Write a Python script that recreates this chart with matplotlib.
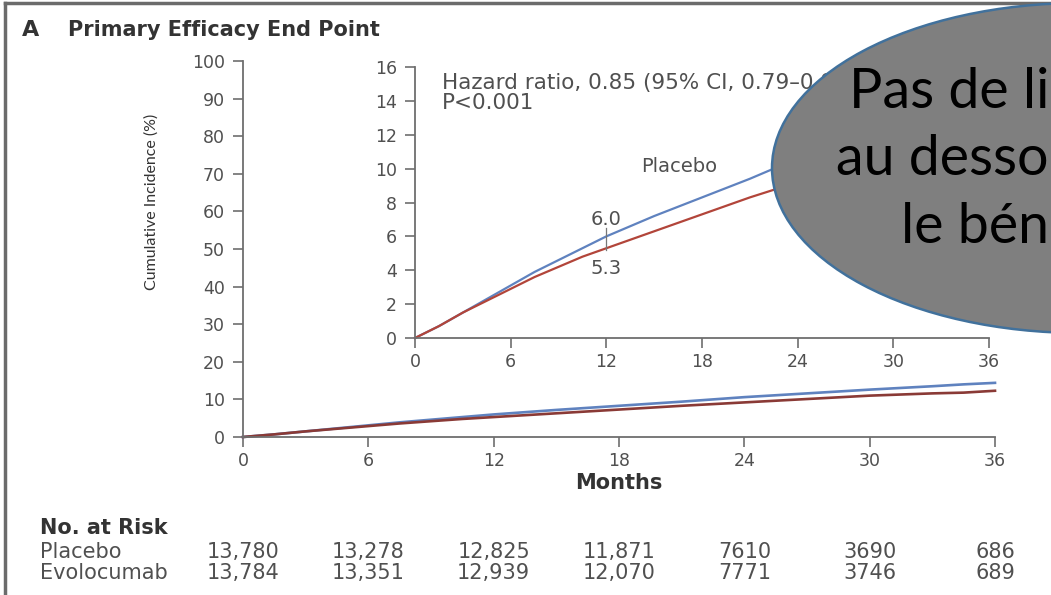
import numpy as np
import matplotlib
matplotlib.use("Agg")
import matplotlib.pyplot as plt
from matplotlib.patches import Ellipse
from matplotlib.lines import Line2D
from matplotlib.transforms import blended_transform_factory

# values (cumulative incidence, %)
months = [0, 1.5, 3, 4.5, 6, 7.5, 9, 10.5, 12, 15, 18, 21, 24, 27, 30, 33, 34.5, 36]
placebo = [0, 0.7, 1.5, 2.3, 3.1, 3.9, 4.6, 5.3, 6.0, 7.2, 8.3, 9.4, 10.6, 11.6, 12.6, 13.5, 14.0, 14.4]
evolocumab = [0, 0.7, 1.5, 2.2, 2.9, 3.6, 4.2, 4.8, 5.3, 6.3, 7.3, 8.3, 9.2, 10.1, 11.0, 11.6, 11.8, 12.3]

x_ticks = [0, 6, 12, 18, 24, 30, 36]
main_y_ticks = list(range(0, 101, 10))
inset_y_ticks = list(range(0, 17, 2))

risk_groups = ["Placebo", "Evolocumab"]
risk_placebo = ["13,780", "13,278", "12,825", "11,871", "7610", "3690", "686"]
risk_evolocumab = ["13,784", "13,351", "12,939", "12,070", "7771", "3746", "689"]

bubble_lines = ["Pas de li", "au desso", "le bén"]

c_placebo = "#5f82bf"
c_evo = "#b2453a"
c_axis = "#6e6e6e"
c_text = "#505050"
c_dark = "#333333"

W, H = 1051, 595
fig = plt.figure(figsize=(W / 100, H / 100), dpi=100)

def fx(px):
	return px / W

def fy(py):
	return 1 - py / H

def style(ax, yticks):
	for s in ["top", "right"]:
		ax.spines[s].set_visible(False)
	for s in ["left", "bottom"]:
		ax.spines[s].set_color(c_axis)
		ax.spines[s].set_linewidth(1.3)
	ax.set_xticks(x_ticks)
	ax.set_yticks(yticks)
	ax.tick_params(colors=c_axis, labelcolor=c_text, labelsize=12.5, length=7, width=1.2)
	ax.tick_params(axis="y", pad=6)
	ax.tick_params(axis="x", pad=4)
	ax.set_xlim(0, 36)
	ax.set_ylim(yticks[0], yticks[-1])
	ax.patch.set_alpha(0)

# main axes
ax = fig.add_axes([fx(243), fy(437), fx(995 - 243), (437 - 61) / H])
style(ax, main_y_ticks)
ax.plot(months, placebo, color=c_placebo, lw=1.9, clip_on=False)
ax.plot(months, evolocumab, color="#8a3a36", lw=1.9, clip_on=False)
ax.set_xlabel("Months", fontsize=15, fontweight="bold", color=c_dark, labelpad=2)
fig.text(fx(152), fy(202), "Cumulative Incidence (%)", rotation=90, fontsize=11.5, family="Lato",
		 color=c_dark, ha="center", va="center")

# inset axes
ins = fig.add_axes([fx(415), fy(338), fx(989 - 415), (338 - 67) / H])
style(ins, inset_y_ticks)
ins.plot(months, placebo, color=c_placebo, lw=1.6, clip_on=False)
ins.plot(months, evolocumab, color=c_evo, lw=1.6, clip_on=False)
ins.plot([12, 12], [5.2, 6.5], color="#777777", lw=0.9)
ins.text(12, 7.0, "6.0", ha="center", va="center", fontsize=14, color=c_text)
ins.text(12, 4.1, "5.3", ha="center", va="center", fontsize=14, color=c_text)
ins.text(16.6, 10.1, "Placebo", ha="center", va="center", fontsize=14, color=c_text)
ins.text(1.7, 14.45, "Hazard ratio, 0.85 (95% CI, 0.79\u20130.92)\nP<0.001", ha="left", va="center",
		 fontsize=15.5, color=c_text, linespacing=1.0)

# title
fig.text(fx(22), fy(30), "A", fontsize=16, fontweight="bold", color=c_dark, va="center")
fig.text(fx(68), fy(30), "Primary Efficacy End Point", fontsize=15, fontweight="bold",
		 color=c_dark, va="center")

# number at risk table
tr = blended_transform_factory(ax.transData, fig.transFigure)
fig.text(fx(40), fy(528), "No. at Risk", fontsize=15, fontweight="bold", color=c_dark, va="center")
for name, counts, ypx in [(risk_groups[0], risk_placebo, 552), (risk_groups[1], risk_evolocumab, 573)]:
	fig.text(fx(40), fy(ypx), name, fontsize=15, color=c_text, va="center")
	for m, n in zip(x_ticks, counts):
		fig.text(m, fy(ypx), n, transform=tr, fontsize=15, color=c_text, ha="center", va="center")

# frame of the slide image
fig.add_artist(Line2D([fx(5), fx(5)], [0, fy(3)], color="#6b6b6b", lw=2.5))
fig.add_artist(Line2D([fx(5), 1], [fy(3), fy(3)], color="#6b6b6b", lw=2.5))

# grey callout bubble
bubble = Ellipse((fx(1081), fy(168)), fx(618), 330 / H, transform=fig.transFigure,
				 facecolor="#7f7f7f", edgecolor="#41719c", lw=1.8, zorder=10)
fig.add_artist(bubble)
for txt, ypx in zip(bubble_lines, [108, 175, 243]):
	fig.text(fx(1049), fy(ypx), txt, fontsize=40, family="Lato", color="black",
			 va="baseline", ha="right", zorder=11)

fig.savefig("out.png", dpi=100)
